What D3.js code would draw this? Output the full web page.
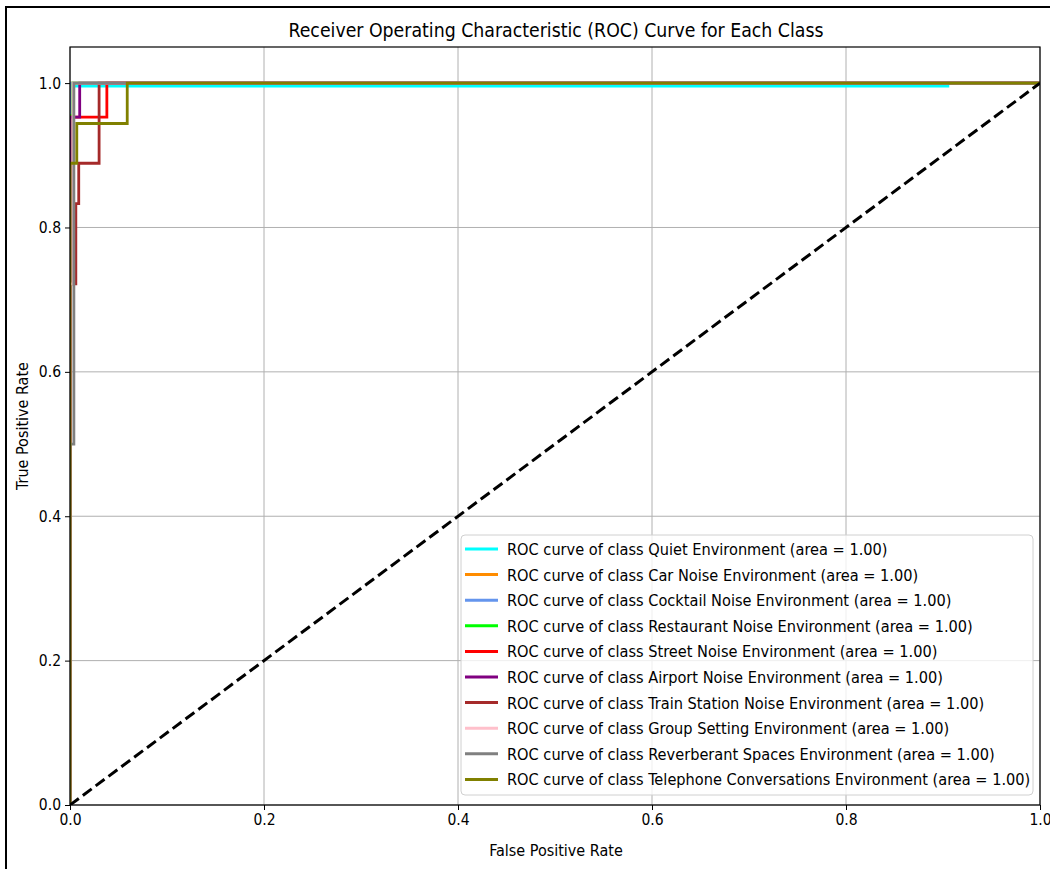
<!DOCTYPE html>
<html>
<head>
<meta charset="utf-8">
<script src="https://cdn.jsdelivr.net/npm/d3@7"></script>
<style>
  html, body { margin: 0; padding: 0; background: #fff; }
  svg text { font-family: "DejaVu Sans Condensed", "DejaVu Sans", sans-serif; fill: #000; }
</style>
</head>
<body>
<svg id="chart" width="1050" height="869"></svg>
<script>
// ROC curves per class: false positive rate / true positive rate pairs
const classNames = [
  "Quiet Environment", "Car Noise Environment", "Cocktail Noise Environment",
  "Restaurant Noise Environment", "Street Noise Environment", "Airport Noise Environment",
  "Train Station Noise Environment", "Group Setting Environment",
  "Reverberant Spaces Environment", "Telephone Conversations Environment"
];
const classAuc = [1.00, 1.00, 1.00, 1.00, 1.00, 1.00, 1.00, 1.00, 1.00, 1.00];

const fprQuiet = [0, 0, 0.905, 0.905, 1];
const tprQuiet = [0, 0.996, 0.996, 1, 1];
const fprCar = [0, 0, 1];
const tprCar = [0, 1, 1];
const fprCocktail = [0, 0, 1];
const tprCocktail = [0, 1, 1];
const fprRestaurant = [0, 0, 0.003, 0.003, 1];
const tprRestaurant = [0, 0.955, 0.955, 1, 1];
const fprStreet = [0, 0, 0.038, 0.038, 1];
const tprStreet = [0, 0.953, 0.953, 1, 1];
const fprAirport = [0, 0, 0.010, 0.010, 1];
const tprAirport = [0, 0.953, 0.953, 1, 1];
const fprTrain = [0, 0, 0.006, 0.006, 0.009, 0.009, 0.030, 0.030, 1];
const tprTrain = [0, 0.722, 0.722, 0.833, 0.833, 0.889, 0.889, 1, 1];
const fprGroup = [0, 0, 0.003, 0.003, 1];
const tprGroup = [0, 0.722, 0.722, 1, 1];
const fprReverb = [0, 0, 0.004, 0.004, 1];
const tprReverb = [0, 0.5, 0.5, 1, 1];
const fprPhone = [0, 0, 0.007, 0.007, 0.059, 0.059, 1];
const tprPhone = [0, 0.889, 0.889, 0.944, 0.944, 1, 1];

const fprAll = [fprQuiet, fprCar, fprCocktail, fprRestaurant, fprStreet, fprAirport, fprTrain, fprGroup, fprReverb, fprPhone];
const tprAll = [tprQuiet, tprCar, tprCocktail, tprRestaurant, tprStreet, tprAirport, tprTrain, tprGroup, tprReverb, tprPhone];

const chanceX = [0, 1];
const chanceY = [0, 1];

const tickValues = [0, 0.2, 0.4, 0.6, 0.8, 1.0];

const classColors = ["#00ffff", "#ff8c00", "#6495ed", "#00ff00", "#ff0000",
                     "#800080", "#a52a2a", "#ffc0cb", "#808080", "#808000"];

// layout
const plot = { left: 70, right: 1040, top: 47, bottom: 805 };
const svg = d3.select("#chart");

// page frame
svg.append("rect")
  .attr("x", 6).attr("y", 7).attr("width", 1100).attr("height", 900)
  .attr("fill", "none").attr("stroke", "#000").attr("stroke-width", 2);

const x = d3.scaleLinear().domain([0, 1]).range([plot.left, plot.right]);
const y = d3.scaleLinear().domain([0, 1.05]).range([plot.bottom, plot.top]);

// grid
const grid = svg.append("g").attr("stroke", "#b0b0b0").attr("stroke-width", 1);
grid.selectAll("line.gx").data(tickValues).join("line")
  .attr("x1", d => x(d)).attr("x2", d => x(d))
  .attr("y1", plot.top).attr("y2", plot.bottom);
grid.selectAll("line.gy").data(tickValues).join("line")
  .attr("class", "gy")
  .attr("x1", plot.left).attr("x2", plot.right)
  .attr("y1", d => y(d)).attr("y2", d => y(d));

// clip
svg.append("clipPath").attr("id", "plotClip")
  .append("rect")
  .attr("x", plot.left).attr("y", plot.top)
  .attr("width", plot.right - plot.left).attr("height", plot.bottom - plot.top);

const curves = svg.append("g").attr("clip-path", "url(#plotClip)");
const line = d3.line().x(d => x(d[0])).y(d => y(d[1]));

classNames.forEach((name, i) => {
  const pts = fprAll[i].map((f, k) => [f, tprAll[i][k]]);
  curves.append("path")
    .attr("d", line(pts))
    .attr("fill", "none")
    .attr("stroke", classColors[i])
    .attr("stroke-width", 2.8)
    .attr("stroke-linejoin", "miter");
});

// chance diagonal
curves.append("path")
  .attr("d", line(chanceX.map((v, k) => [v, chanceY[k]])))
  .attr("fill", "none")
  .attr("stroke", "#000")
  .attr("stroke-width", 3)
  .attr("stroke-dasharray", "11,5");

// axes
const xAxis = d3.axisBottom(x).tickValues(tickValues).tickFormat(d3.format(".1f")).tickSizeOuter(0).tickSize(5).tickPadding(4);
const yAxis = d3.axisLeft(y).tickValues(tickValues).tickFormat(d3.format(".1f")).tickSizeOuter(0).tickSize(5).tickPadding(4);

const gx = svg.append("g").attr("transform", `translate(0,${plot.bottom})`).call(xAxis);
const gy = svg.append("g").attr("transform", `translate(${plot.left},0)`).call(yAxis);
[gx, gy].forEach(g => {
  g.select(".domain").remove();
  g.selectAll("text").attr("font-size", 15.5).attr("font-family", '"DejaVu Sans Condensed", "DejaVu Sans", sans-serif');
  g.selectAll("line").attr("stroke", "#000");
});

// spines
svg.append("rect")
  .attr("x", plot.left).attr("y", plot.top)
  .attr("width", plot.right - plot.left).attr("height", plot.bottom - plot.top)
  .attr("fill", "none").attr("stroke", "#000").attr("stroke-width", 1.2);

// titles
svg.append("text")
  .attr("x", (plot.left + plot.right) / 2 + 1).attr("y", 37)
  .attr("text-anchor", "middle").attr("font-size", 19.3)
  .text("Receiver Operating Characteristic (ROC) Curve for Each Class");

svg.append("text")
  .attr("x", (plot.left + plot.right) / 2 + 1).attr("y", 856)
  .attr("text-anchor", "middle").attr("font-size", 16)
  .text("False Positive Rate");

svg.append("text")
  .attr("transform", `translate(28,${(plot.top + plot.bottom) / 2}) rotate(-90)`)
  .attr("text-anchor", "middle").attr("font-size", 16)
  .text("True Positive Rate");

// legend
const legend = svg.append("g").attr("transform", "translate(461,535)");
const rowH = 25.6;
legend.append("rect")
  .attr("x", 0).attr("y", 0).attr("width", 572).attr("height", 260)
  .attr("rx", 4).attr("ry", 4)
  .attr("fill", "#fff").attr("fill-opacity", 0.8)
  .attr("stroke", "#d0d0d0").attr("stroke-width", 1);

classNames.forEach((name, i) => {
  const cy = 14 + i * rowH;
  legend.append("line")
    .attr("x1", 4).attr("x2", 37).attr("y1", cy).attr("y2", cy)
    .attr("stroke", classColors[i]).attr("stroke-width", 3);
  legend.append("text")
    .attr("x", 46).attr("y", cy + 6)
    .attr("font-size", 16.2)
    .text(`ROC curve of class ${name} (area = ${classAuc[i].toFixed(2)})`);
});
</script>
</body>
</html>
